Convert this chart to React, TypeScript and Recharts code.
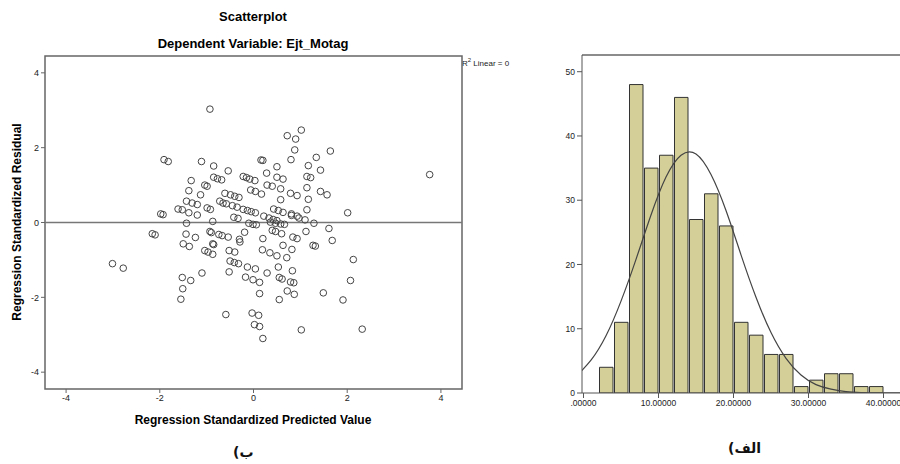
import {
  ScatterChart,
  Scatter,
  ComposedChart,
  Bar,
  Line,
  XAxis,
  YAxis,
  ReferenceLine,
  ReferenceArea,
} from "recharts";

// residual scatter: [standardized predicted, standardized residual]
const residualPoints: [number, number][] = [
  [-0.93, 3.03], [-1.91, 1.68], [-1.82, 1.63], [-1.11, 1.63], [-0.85, 1.51],
  [-0.54, 1.38], [-1.33, 1.12], [-0.85, 1.21], [-0.77, 1.17], [-0.68, 1.14],
  [-1.04, 1.0], [-0.99, 0.97], [-1.38, 0.85], [-1.13, 0.74], [-0.61, 0.78],
  [-0.49, 0.74], [-0.4, 0.7], [-0.31, 0.67], [-0.22, 1.23], [-0.15, 1.2],
  [-0.08, 1.16], [0.03, 1.12], [0.16, 1.67], [0.2, 1.66], [0.28, 1.32],
  [0.5, 1.49], [0.5, 1.21], [0.63, 1.16], [0.29, 1.0], [0.4, 0.97],
  [0.58, 0.9], [-0.06, 0.87], [0.04, 0.83], [0.17, 0.76], [0.72, 2.32],
  [0.9, 2.23], [0.88, 1.94], [0.8, 1.68], [0.79, 0.78], [0.93, 0.72],
  [-1.43, 0.57], [-1.31, 0.52], [-1.2, 0.48], [-1.61, 0.36], [-1.52, 0.34],
  [-1.38, 0.26], [-1.2, 0.2], [-1.98, 0.23], [-1.93, 0.21], [-0.99, 0.39],
  [-0.92, 0.35], [-0.72, 0.57], [-0.65, 0.52], [-0.58, 0.5], [-0.42, 0.14],
  [-0.33, 0.11], [-0.45, 0.45], [-0.35, 0.41], [-0.22, 0.35], [-0.13, 0.32],
  [-0.05, 0.29], [0.04, 0.26], [0.22, 0.17], [0.33, 0.12], [0.42, 0.08],
  [0.5, 0.05], [0.43, 0.36], [0.53, 0.32], [0.63, 0.27], [0.81, 0.23],
  [0.93, 0.17], [-1.43, -0.02], [-0.87, 0.03], [-0.1, -0.02], [-0.01, -0.05],
  [0.06, -0.06], [0.36, 0.01], [0.47, -0.02], [0.58, -0.04], [0.66, -0.05],
  [-2.16, -0.3], [-2.1, -0.33], [-1.44, -0.31], [-1.24, -0.4], [-0.93, -0.24],
  [-0.9, -0.27], [-0.74, -0.32], [-0.67, -0.35], [-0.54, -0.39], [-0.3, -0.45],
  [-0.19, -0.26], [0.2, -0.43], [0.4, -0.21], [0.47, -0.24], [0.6, -0.3],
  [0.84, -0.39], [0.93, -0.43], [-3.01, -1.1], [-2.78, -1.22], [-1.5, -0.57],
  [-1.37, -0.64], [-1.52, -1.47], [-1.34, -1.55], [-1.51, -1.77], [-1.55, -2.05],
  [-1.1, -1.35], [-1.04, -0.75], [-0.97, -0.79], [-0.87, -0.85], [-0.87, -0.57],
  [-0.85, -0.59], [-0.59, -2.46], [-0.52, -0.75], [-0.4, -0.79], [-0.5, -1.03],
  [-0.41, -1.07], [-0.32, -1.1], [-0.13, -1.19], [-0.52, -1.32], [-0.29, -0.52],
  [-0.17, -1.46], [-0.01, -1.53], [0.13, -1.6], [0.04, -1.24], [0.13, -1.9],
  [-0.03, -2.42], [0.11, -2.48], [0.02, -2.73], [0.13, -2.78], [0.2, -3.1],
  [0.19, -0.73], [0.35, -0.81], [0.29, -1.35], [0.53, -1.19], [0.55, -1.47],
  [0.61, -1.51], [0.55, -2.06], [0.63, -0.61], [0.71, -0.94], [0.5, -0.89],
  [0.83, -1.29], [0.72, -1.83], [0.87, -1.92], [0.82, -0.72], [1.02, 2.47],
  [1.64, 1.91], [1.34, 1.74], [1.17, 1.52], [1.43, 1.4], [1.14, 1.23],
  [1.22, 1.2], [3.76, 1.28], [1.14, 0.93], [1.17, 0.62], [1.43, 0.83],
  [1.57, 0.74], [0.58, 0.61], [1.14, 0.34], [2.01, 0.26], [0.81, 0.19],
  [0.97, 0.12], [1.1, 0.07], [1.29, -0.02], [1.61, -0.16], [1.12, -0.24],
  [1.27, -0.61], [1.32, -0.63], [1.68, -0.48], [2.13, -0.99], [0.79, -1.59],
  [0.86, -1.61], [2.07, -1.55], [1.49, -1.88], [1.91, -2.07], [1.02, -2.87],
  [2.32, -2.85],
];

const scatterTicks = [-4, -2, 0, 2, 4];

// histogram bins (width 2, centred on odd values) and the normal curve read at the same odd x
const binCenters = [3, 5, 7, 9, 11, 13, 15, 17, 19, 21, 23, 25, 27, 29, 31, 33, 35, 37, 39];
const binCounts = [4, 11, 48, 35, 37, 46, 27, 31, 26, 11, 9, 6, 6, 1, 2, 3, 3, 1, 1];
const curveX = [-1, 1, 3, 5, 7, 9, 11, 13, 15, 17, 19, 21, 23, 25, 27, 29, 31, 33, 35, 37, 39, 41, 43];
const curveY = [2.6, 5.1, 8.9, 14.3, 20.8, 27.7, 33.6, 37.0, 37.2, 34.0, 28.4, 21.5, 14.9, 9.4, 5.4, 2.8, 1.3, 0.6, 0.22, 0.08, 0.03, 0.01, 0];
const histXTicks = [0, 10, 20, 30, 40];
const histYTicks = [0, 10, 20, 30, 40, 50];

const scatterData = residualPoints.map(([x, y]) => ({ x, y }));
const histData = curveX.map((x, i) => {
  const b = binCenters.indexOf(x);
  return { x, curve: curveY[i], count: b >= 0 ? binCounts[b] : null };
});

const font = "'Liberation Sans', Arial, sans-serif";
const tickStyle = { fill: "#222", fontSize: 9, fontFamily: font };
const histTickStyle = { fill: "#222", fontSize: 8.5, fontFamily: font };

const OpenCircle = (props: any) => (
  <circle cx={props.cx} cy={props.cy} r={3.3} fill="none" stroke="#454545" strokeWidth={1} />
);

const fmtHist = (v: number) => (v === 0 ? ".00000" : v.toFixed(5));

export default function App() {
  return (
    <div
      style={{
        position: "absolute",
        left: 0,
        top: 0,
        width: 900,
        height: 464,
        overflow: "hidden",
        background: "#fff",
        fontFamily: font,
      }}
    >
      <div style={{ position: "absolute", left: 0, width: 506, top: 9, textAlign: "center", fontSize: 13, fontWeight: "bold" }}>
        Scatterplot
      </div>
      <div style={{ position: "absolute", left: 0, width: 506, top: 36, textAlign: "center", fontSize: 13, fontWeight: "bold" }}>
        Dependent Variable: Ejt_Motag
      </div>
      <div style={{ position: "absolute", left: 462, top: 57, fontSize: 8, color: "#222" }}>
        R<sup style={{ fontSize: 6 }}>2</sup> Linear = 0
      </div>

      <div style={{ position: "absolute", left: 0, top: 0 }}>
        <ScatterChart width={480} height={420} margin={{ top: 56, right: 18, bottom: 11, left: 25 }}>
          <XAxis
            type="number"
            dataKey="x"
            domain={[-4.45, 4.45]}
            ticks={scatterTicks}
            allowDataOverflow
            height={20}
            tickSize={4}
            tick={tickStyle}
            stroke="#666"
            axisLine={false}
          />
          <YAxis
            type="number"
            dataKey="y"
            domain={[-4.45, 4.45]}
            ticks={scatterTicks}
            allowDataOverflow
            width={20}
            tickSize={4}
            tick={tickStyle}
            stroke="#666"
            axisLine={false}
          />
          <ReferenceArea x1={-4.45} x2={4.45} y1={-4.45} y2={4.45} fill="none" stroke="#666" strokeWidth={1.5} />
          <ReferenceLine y={0} stroke="#777" strokeWidth={1.5} />
          <Scatter data={scatterData} shape={OpenCircle} isAnimationActive={false} />
        </ScatterChart>
      </div>

      <div
        style={{
          position: "absolute",
          left: 17,
          top: 222,
          transform: "translate(-50%, -50%) rotate(-90deg)",
          whiteSpace: "nowrap",
          fontSize: 12,
          fontWeight: "bold",
        }}
      >
        Regression Standardized Residual
      </div>
      <div style={{ position: "absolute", left: 0, width: 506, top: 413, textAlign: "center", fontSize: 12, fontWeight: "bold" }}>
        Regression Standardized Predicted Value
      </div>
      <div dir="rtl" style={{ position: "absolute", left: 233, top: 444, fontSize: 14, fontWeight: "bold", fontFamily: "'DejaVu Sans', sans-serif", color: "#111" }}>
        ب)
      </div>

      <div style={{ position: "absolute", left: 540, top: 0 }}>
        <ComposedChart width={380} height={464} data={histData} margin={{ top: 55, right: 14, bottom: 51, left: 17 }}>
          <XAxis
            type="number"
            dataKey="x"
            domain={[-0.2, 43]}
            ticks={histXTicks}
            tickFormatter={fmtHist}
            allowDataOverflow
            height={20}
            tickSize={5}
            tick={histTickStyle}
            stroke="#555"
          />
          <YAxis
            type="number"
            domain={[0, 52.6]}
            ticks={histYTicks}
            allowDataOverflow
            width={25}
            tickSize={5}
            tick={histTickStyle}
            stroke="#555"
          />
          <ReferenceLine y={52.6} stroke="#666" strokeWidth={1.5} />
          <Bar dataKey="count" barSize={15} fill="#d4cf98" stroke="#333" strokeWidth={1} isAnimationActive={false} />
          <Line
            dataKey="curve"
            type="natural"
            stroke="#444"
            strokeWidth={1.2}
            dot={false}
            isAnimationActive={false}
          />
        </ComposedChart>
      </div>

      <div dir="rtl" style={{ position: "absolute", left: 728, top: 440, fontSize: 14, fontWeight: "bold", fontFamily: "'DejaVu Sans', sans-serif", color: "#111" }}>
        الف)
      </div>
    </div>
  );
}
